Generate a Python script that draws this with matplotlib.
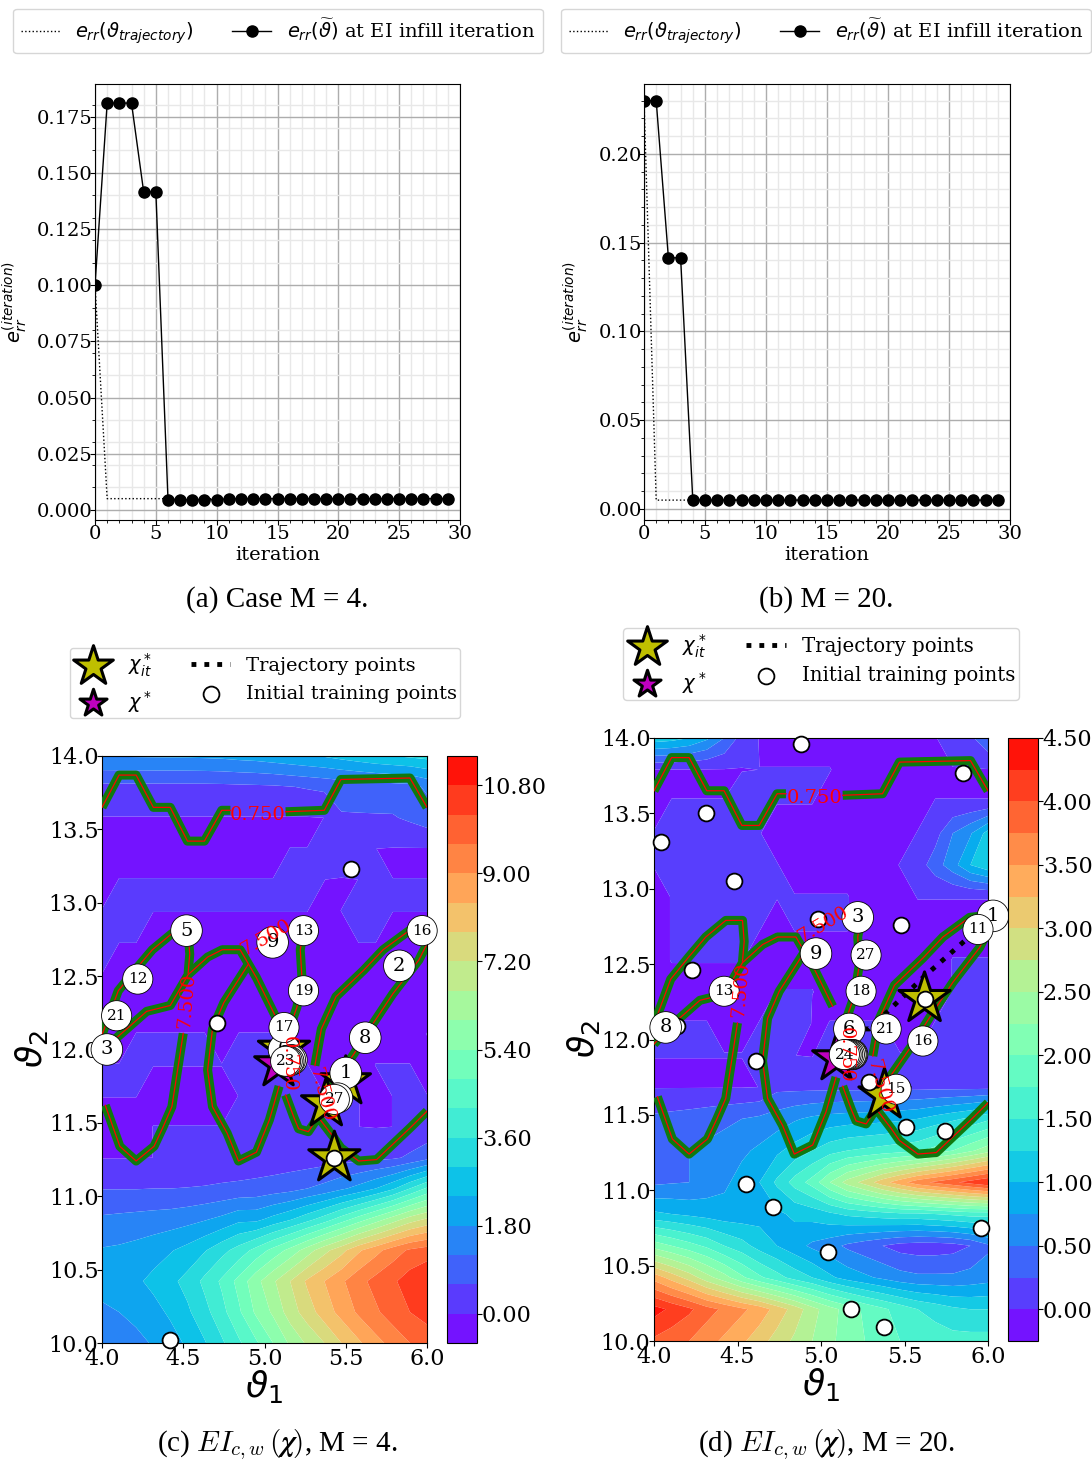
import numpy as np
import matplotlib
matplotlib.use('Agg')
import matplotlib.pyplot as plt
from matplotlib.ticker import MultipleLocator

# top panels
iters = list(range(30))
err_a = [0.1, 0.181, 0.181, 0.181, 0.1415, 0.1415] + [0.0045] * 5 + [0.005] * 19
traj_a = [0.1, 0.005] + [0.005] * 28
err_b = [0.23, 0.23, 0.1415, 0.1415] + [0.005] * 26
traj_b = [0.23, 0.005] + [0.005] * 28

# EI surface, 20x20 grid, rows from y=14 down to y=10
grid_x = np.linspace(4, 6, 20)
grid_y = np.linspace(14, 10, 20)

n, p, q = -0.02, 0.001, 0.3
ei_c = [
    [1.83, 1.84, 1.85, 1.86, 1.87, 1.88, 1.90, 1.93, 2.00, 2.05, 2.15, 2.25, 2.35, 2.45, 2.60, 2.75, 2.90, 3.00, 3.10, 3.20],
    [.45, .45, .45, .45, .45, .45, .45, .46, .48, .50, .52, .58, .65, .72, .80, .85, .90, .95, 1.0, 1.3],
    [n, n, n, n, n, n, n, n, n, n, n, n, n, p, .55, .55, .55, .55, .7, .9],
    [n, n, n, n, n, n, n, n, n, n, n, p, p, q, q, q, p, n, n, n],
    [n, p, p, p, p, p, p, p, p, p, p, p, p, p, n, p, q, p, p, p],
    [p, q, q, p, p, p, p, p, p, p, p, p, p, n, p, p, p, p, p, p],
    [p, p, p, n, n, n, n, n, n, n, n, n, n, n, n, p, p, n, n, n],
    [p, n, n, n, n, n, n, n, n, n, n, n, n, n, n, n, n, n, n, n],
    [n, n, n, n, n, n, n, n, n, n, n, n, n, n, n, n, n, n, n, n],
    [n, n, p, p, p, p, p, n, p, p, p, p, n, n, n, n, n, n, n, p],
    [p, p, q, p, p, p, p, p, q, q, q, q, p, n, n, n, p, p, p, n],
    [p, p, p, n, n, n, n, n, p, p, p, p, p, p, p, p, n, p, p, p],
    [n, n, n, p, p, p, p, p, p, p, p, p, p, p, p, p, n, p, .1, .15],
    [n, n, n, p, .1, .1, .1, .15, .15, .2, .2, .25, .25, .3, .35, .4, .45, .5, .7, 1.0],
    [.58, .58, .58, .6, .6, .62, .65, .7, .75, .8, .9, 1.0, 1.2, 1.4, 1.7, 2.0, 2.4, 2.9, 3.6, 4.3],
    [1.3, 1.35, 1.4, 1.45, 1.5, 1.6, 1.75, 1.95, 2.25, 2.25, 2.6, 2.95, 3.4, 3.9, 4.5, 5.1, 5.7, 6.3, 6.9, 7.3],
    [1.85, 1.9, 2.0, 2.15, 2.35, 2.6, 2.95, 3.4, 3.85, 4.4, 5.0, 5.6, 6.3, 7.0, 7.6, 8.3, 8.8, 9.3, 9.7, 9.9],
    [2.0, 2.15, 2.3, 2.55, 2.85, 3.2, 3.75, 4.3, 5.0, 5.8, 6.5, 7.2, 7.9, 8.4, 8.9, 9.4, 9.8, 10.1, 10.5, 10.75],
    [1.7, 1.8, 1.95, 2.2, 2.5, 2.9, 3.4, 4.0, 4.7, 5.5, 6.1, 6.9, 7.5, 8.1, 8.6, 9.1, 9.5, 9.9, 10.2, 10.4],
    [1.2, 1.4, 1.65, 1.85, 2.15, 2.5, 2.95, 3.5, 4.1, 4.7, 5.4, 6.1, 6.7, 7.2, 7.8, 8.3, 8.8, 9.2, 9.6, 9.9],
]
n, p, q = -0.01, 0.001, 0.15
ei_d = [
    [1.15, 1.1, 1.0, .8, .5, .15, n, n, n, n, n, n, n, n, n, n, n, .1, .2, .45],
    [n, n, n, n, n, n, p, p, p, p, p, n, n, n, n, n, n, n, n, n],
    [n, p, p, p, p, q, q, p, p, p, n, n, n, n, n, n, p, p, p, p],
    [p, p, q, q, q, q, p, n, n, n, n, n, n, n, n, p, .15, .5, .72, 1.1],
    [p, q, q, q, q, q, q, p, n, n, n, n, n, n, p, .12, .38, .65, 1.0, 1.2],
    [n, p, q, q, q, p, p, p, p, p, p, p, n, n, n, p, p, p, p, p],
    [n, p, q, q, q, q, p, n, p, p, p, p, n, n, n, n, n, n, n, n],
    [n, p, p, p, p, p, n, n, n, n, n, n, n, n, n, n, n, p, p, p],
    [n, n, n, n, n, n, n, p, p, p, n, n, n, n, n, n, n, p, q, q],
    [p, p, p, p, n, n, p, q, q, n, p, p, p, p, n, n, p, q, q, q],
    [p, p, p, p, p, p, q, q, p, n, q, q, q, q, p, p, p, p, q, q],
    [n, n, n, n, n, n, p, .18, .18, .18, .18, .18, .18, .18, .18, .18, .18, .18, .18, .18],
    [.3, .33, .36, .4, .45, .5, .55, .62, .72, .8, .85, .88, .9, .92, .95, 1.0, 1.1, 1.2, 1.3, 1.45],
    [.4, .45, .5, .55, .6, .7, .8, .95, 1.1, 1.25, 1.4, 1.5, 1.55, 1.6, 1.65, 1.7, 1.85, 2.0, 2.2, 2.4],
    [.45, .48, .5, .6, .7, .85, 1.0, 1.3, 1.6, 1.85, 2.25, 2.6, 2.85, 3.15, 3.4, 3.65, 3.8, 3.95, 4.1, 4.25],
    [1.05, 1.0, .95, .9, .85, .85, .9, .95, 1.05, 1.1, 1.2, 1.3, 1.35, 1.4, 1.45, 1.45, 1.5, 1.55, 1.6, 1.6],
    [2.15, 2.0, 1.85, 1.7, 1.5, 1.35, 1.15, 1.0, .85, .7, .6, .45, .35, .25, .15, .12, .12, .15, .25, .45],
    [3.4, 3.15, 2.9, 2.6, 2.35, 2.05, 1.8, 1.6, 1.4, 1.25, 1.05, .9, .8, .7, .6, .55, .55, .55, .6, .65],
    [4.35, 4.2, 4.05, 3.85, 3.7, 3.55, 3.4, 3.15, 2.9, 2.6, 2.35, 2.15, 1.95, 1.8, 1.65, 1.5, 1.4, 1.3, 1.25, 1.25],
    [3.95, 3.85, 3.75, 3.6, 3.45, 3.3, 3.1, 2.9, 2.7, 2.5, 2.3, 2.15, 2.0, 1.85, 1.75, 1.7, 1.65, 1.6, 1.6, 1.6],
]
levels_c = np.arange(-0.6, 11.41, 0.6)
levels_d = np.arange(-0.25, 4.51, 0.25)
ticks_c = [0.0, 1.8, 3.6, 5.4, 7.2, 9.0, 10.8]
ticks_d = [0.0, 0.5, 1.0, 1.5, 2.0, 2.5, 3.0, 3.5, 4.0, 4.5]

# constraint curves, the same in both contour panels (nan = gap for a label)
curve_top_x = [4.0, 4.105, 4.21, 4.316, 4.42, 4.526, 4.63, 4.737, 4.79, np.nan, 5.13, 5.368, 5.47, 5.895, 6.0]
curve_top_y = [13.65, 13.87, 13.87, 13.65, 13.65, 13.42, 13.42, 13.63, 13.63, np.nan, 13.62, 13.63, 13.84, 13.85, 13.65]
curve_left_x = [4.0, 4.10, 4.21, 4.31, 4.43, 4.53, 4.54, 4.53, np.nan, 4.50, 4.43, 4.375, 4.32, 4.21, 4.11, 4.02]
curve_left_y = [12.10, 12.40, 12.55, 12.68, 12.79, 12.79, 12.65, 12.52, np.nan, 12.11, 11.61, 11.47, 11.34, 11.24, 11.34, 11.62]
curve_mid_x = [4.0, 4.09, 4.275, 4.42, 4.53, 4.65, 4.74, 4.85, 4.95, 5.07, np.nan, 5.13, 5.18, 5.21, 5.27, 5.33, 5.42,
               5.47, 5.58, 5.69, 5.90, 6.0]
curve_mid_y = [11.97, 12.08, 12.26, 12.30, 12.51, 12.63, 12.68, 12.68, 12.49, 12.22, np.nan, 11.69, 11.54, 11.46, 11.44, 11.54, 11.41,
               11.33, 11.24, 11.25, 11.47, 11.58]
curve_loop_x = [4.90, 4.75, 4.68, 4.65, 4.68, 4.77, 4.84, 4.95, 5.03, 5.09, np.nan, 5.14, 5.20, 5.23, 5.22, 5.24]
curve_loop_y = [12.58, 12.32, 12.14, 11.86, 11.61, 11.43, 11.24, 11.30, 11.52, 11.75, np.nan, 12.10, 12.29, 12.50, 12.68, 12.80]
curve_right_x = [5.31, 5.35, 5.44, 5.61, 5.73, 5.89, 5.97, 6.0, 5.95, 5.79, 5.67, 5.55, 5.38]
curve_right_y = [11.89, 12.14, 12.36, 12.54, 12.68, 12.81, 12.82, 12.72, 12.61, 12.38, 12.18, 11.97, 11.70]

labels_x = [4.96, 4.52, 5.01, 5.15, 5.35]
labels_y = [13.60, 12.33, 12.76, 11.90, 11.69]
labels_txt = ['0.750', '7.500', '7.500', '0.750', '7.500']
labels_rot = [0, 85, 30, -90, -75]

# points
init_c_x = [5.53, 4.71, 4.42, 5.43]
init_c_y = [13.23, 12.18, 10.02, 11.26]
init_d_x = [4.88, 5.85, 4.31, 4.04, 4.48, 4.98, 5.48, 4.23, 4.14, 4.61, 5.51, 5.74, 4.55, 4.71, 5.96, 5.04, 5.18, 5.38, 5.62, 5.29]
init_d_y = [13.96, 13.77, 13.5, 13.31, 13.05, 12.8, 12.76, 12.46, 12.09, 11.86, 11.42, 11.39, 11.04, 10.89, 10.75, 10.59, 10.21, 10.09, 12.27, 11.72]

nodes_c_txt = ['3', '5', '12', '21', '13', '16', '2', '8', '19', '9', '6', '17', '1',
               '24', '25', '26', '28', '23', '29', '27']
nodes_c_x = [4.03, 4.52, 4.22, 4.09, 5.24, 5.97, 5.83, 5.62, 5.24, 5.05, 5.12, 5.12, 5.50,
             5.17, 5.16, 5.15, 5.14, 5.13, 5.45, 5.43]
nodes_c_y = [12.0, 12.81, 12.48, 12.23, 12.81, 12.81, 12.57, 12.08, 12.40, 12.73, 12.0, 12.15, 11.84,
             11.93, 11.93, 11.92, 11.92, 11.92, 11.67, 11.66]
nodes_d_txt = ['1', '11', '3', '27', '9', '13', '18', '8', '6', '21', '16', '15',
               '19', '20', '22', '23', '25', '26', '24']
nodes_d_x = [6.03, 5.94, 5.22, 5.27, 4.97, 4.42, 5.24, 4.07, 5.17, 5.39, 5.61, 5.45,
             5.19, 5.185, 5.18, 5.17, 5.16, 5.15, 5.14]
nodes_d_y = [12.82, 12.73, 12.81, 12.56, 12.57, 12.32, 12.32, 12.08, 12.07, 12.07, 11.99, 11.67,
             11.9, 11.9, 11.9, 11.9, 11.9, 11.9, 11.9]

stars_c_x = [5.43, 5.50, 5.38, 5.12]
stars_c_y = [11.26, 11.78, 11.63, 12.0]
stars_c_s = [1500, 1400, 1400, 1500]
stars_d_x = [5.62, 5.38]
stars_d_y = [12.27, 11.63]
stars_d_s = [1500, 1500]
best_c = (5.08, 11.90)
best_d = (5.09, 11.88)
traj_c_x = [5.50, 5.38]
traj_c_y = [11.84, 11.66]
traj_d_x = [6.03, 5.62, 5.29, 5.17, 5.14]
traj_d_y = [12.82, 12.42, 12.07, 12.07, 11.9]

W, H = 1092, 1461
serif = 'DejaVu Serif'
fig = plt.figure(figsize=(W / 100, H / 100), dpi=100)


def px_axes(x0, y0, x1, y1):
    return fig.add_axes([x0 / W, 1 - y1 / H, (x1 - x0) / W, (y1 - y0) / H])


def err_panel(box, err, traj, ylim, yticks, fmt, leg_c, caption, cap_x, ylab_x):
    ax = px_axes(*box)
    l1, = ax.plot(iters, traj, ':', color='k', lw=1, label=r'$e_{rr}(\vartheta_{trajectory})$')
    l2, = ax.plot(iters, err, '-o', color='k', lw=1, ms=8,
                  label=r'$e_{rr}(\widetilde{\vartheta})$ at EI infill iteration')
    ax.set_xlim(0, 30)
    ax.set_ylim(*ylim)
    ax.set_xticks(range(0, 31, 5))
    ax.set_yticks(yticks)
    ax.set_yticklabels([fmt % t for t in yticks], family=serif, fontsize=14)
    ax.set_xticklabels([str(t) for t in range(0, 31, 5)], family=serif, fontsize=14)
    ax.xaxis.set_minor_locator(MultipleLocator(1))
    ax.yaxis.set_minor_locator(MultipleLocator(0.01))
    ax.grid(which='major', color='#adadad', lw=1)
    ax.grid(which='minor', color='#e8e8e8', lw=1)
    ax.set_axisbelow(True)
    ax.tick_params(axis='x', pad=0)
    ax.tick_params(axis='y', pad=-2)
    ax.set_xlabel('iteration', family=serif, fontsize=14, labelpad=2)
    ax.set_ylabel(r'$e_{rr}^{(iteration)}$', fontsize=14)
    ax.yaxis.set_label_coords(ylab_x, 0.5)
    fig.legend(handles=[l1, l2], loc='center', bbox_to_anchor=(leg_c[0] / W, 1 - leg_c[1] / H), ncol=2,
               prop={'family': serif, 'size': 14}, borderaxespad=0)
    fig.text(cap_x / W, 1 - 600 / H, caption, family='Liberation Serif', fontsize=21, ha='center', va='center')


def ei_panel(box, cbox, ei, levels, ticks, init_x, init_y, node_txt, node_x, node_y,
             sx, sy, ss, best, tx, ty, leg_c, leg_size, caption, cap_x, cap_y):
    ax = px_axes(*box)
    cf = ax.contourf(grid_x, grid_y, np.array(ei), levels=levels, cmap='rainbow',
                     vmin=levels[0], vmax=levels[-1], antialiased=True)
    for cx, cy in [(curve_top_x, curve_top_y), (curve_left_x, curve_left_y), (curve_mid_x, curve_mid_y),
                   (curve_loop_x, curve_loop_y), (curve_right_x, curve_right_y)]:
        ax.plot(cx, cy, color='#0f7a0f', lw=6.5, zorder=3, solid_capstyle='butt')
        ax.plot(cx, cy, color='red', lw=0.9, zorder=3.1)
    for x, y, t, r in zip(labels_x, labels_y, labels_txt, labels_rot):
        ax.text(x, y, t, color='red', rotation=r, family=serif, fontsize=14, ha='center', va='center', zorder=8)
    traj_line, = ax.plot(tx, ty, ':', color='k', lw=3.5, zorder=3.5, label='Trajectory points')
    ax.scatter(sx, sy, s=ss, marker='*', c='y', edgecolors='k', linewidths=2.2, zorder=4)
    st_leg = ax.scatter([], [], s=900, marker='*', c='y', edgecolors='k', linewidths=2.2, label=r'$\chi_{it}^*$')
    ax.scatter(best[0], best[1], s=1300, marker='*', c='m', edgecolors='k', linewidths=2.2, zorder=4.1)
    bs_leg = ax.scatter([], [], s=420, marker='*', c='m', edgecolors='k', linewidths=2.2, label=r'$\chi^*$')
    ini = ax.scatter(init_x, init_y, s=130, c='w', edgecolors='k', linewidths=1.3, zorder=6,
                     label='Initial training points')
    ini.set_clip_on(False)
    for t, x, y in zip(node_txt, node_x, node_y):
        ax.annotate(t, (x, y), ha='center', va='center', family=serif, fontsize=14 if len(t) == 1 else 11,
                    bbox=dict(boxstyle='circle,pad=0.35', fc='w', ec='k', lw=0.6), zorder=7, annotation_clip=False)
    ax.set_xlim(4, 6)
    ax.set_ylim(10, 14)
    ax.set_xticks([4.0, 4.5, 5.0, 5.5, 6.0])
    ax.set_xticklabels(['4.0', '4.5', '5.0', '5.5', '6.0'], family=serif, fontsize=16)
    ax.set_yticks(np.arange(10, 14.1, 0.5))
    ax.set_yticklabels(['%.1f' % t for t in np.arange(10, 14.1, 0.5)], family=serif, fontsize=16)
    ax.tick_params(axis='x', pad=0)
    ax.tick_params(axis='y', pad=-1)
    ax.set_xlabel(r'$\vartheta_1$', fontsize=26, labelpad=-1)
    ax.set_ylabel(r'$\vartheta_2$', fontsize=26, labelpad=-1)
    cax = px_axes(*cbox)
    cb = fig.colorbar(cf, cax=cax, ticks=ticks)
    cb.ax.set_yticklabels(['%.2f' % t for t in ticks], family=serif, fontsize=16)
    cb.ax.tick_params(pad=0)
    fig.legend(handles=[st_leg, bs_leg, traj_line, ini], loc='center',
               bbox_to_anchor=(leg_c[0] / W, 1 - leg_c[1] / H), ncol=2,
               prop={'family': serif, 'size': leg_size}, borderaxespad=0, borderpad=0.2)
    fig.text(cap_x / W, 1 - cap_y / H, caption, family='Liberation Serif', fontsize=21, ha='center', va='center',
             math_fontfamily='cm')


err_panel((95, 84, 460, 520), err_a, traj_a, (-0.0045, 0.1895), [0, .025, .05, .075, .1, .125, .15, .175], '%.3f',
          (278, 31), '(a) Case M = 4.', 277, -0.18)
err_panel((644, 84, 1010, 520), err_b, traj_b, (-0.0062, 0.2394), [0, .05, .1, .15, .2], '%.2f',
          (826, 31), '(b) M = 20.', 826, -0.148)
ei_panel((102, 756, 427, 1343), (447, 756, 477, 1343), ei_c, levels_c, ticks_c, init_c_x, init_c_y,
         nodes_c_txt, nodes_c_x, nodes_c_y, stars_c_x, stars_c_y, stars_c_s, best_c, traj_c_x, traj_c_y,
         (265, 683), 14, r'(c) $EI_{c,w}\,(\boldsymbol{\chi})$, M = 4.', 277, 1445)
ei_panel((654, 738, 988, 1341), (1008, 738, 1038, 1341), ei_d, levels_d, ticks_d, init_d_x, init_d_y,
         nodes_d_txt, nodes_d_x, nodes_d_y, stars_d_x, stars_d_y, stars_d_s, best_d, traj_d_x, traj_d_y,
         (821, 664), 14.2, r'(d) $EI_{c,w}\,(\boldsymbol{\chi})$, M = 20.', 826, 1445)

plt.savefig('out.png', dpi=100)
